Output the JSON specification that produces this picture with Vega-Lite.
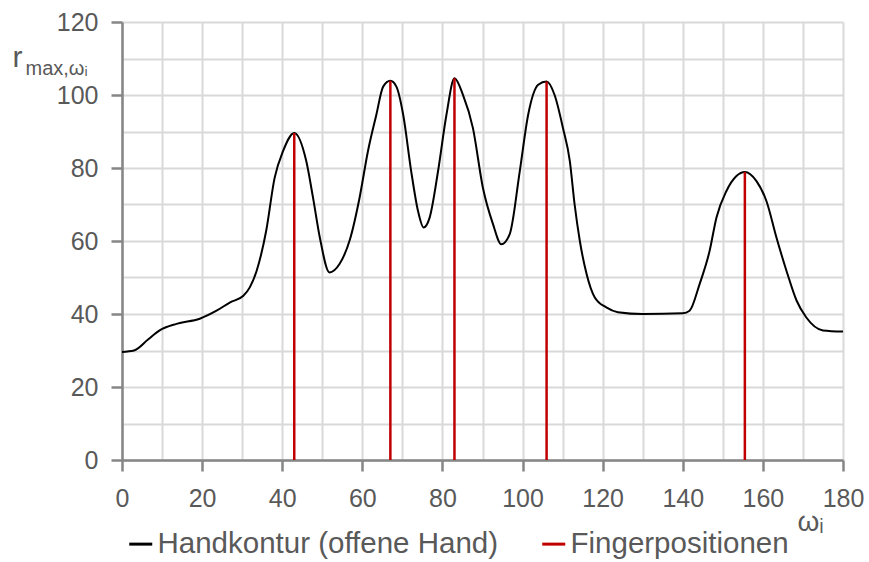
{
  "$schema": "https://vega.github.io/schema/vega-lite/v6.json",
  "width": 721,
  "height": 438,
  "autosize": "none",
  "padding": {"left": 122, "top": 22, "right": 26, "bottom": 102},
  "background": "white",
  "config": {
    "view": {"stroke": null},
    "font": "Liberation Sans",
    "axis": {"labelFont": "Liberation Sans", "titleFont": "Liberation Sans", "labelColor": "#595959", "titleColor": "#595959", "labelFlush": false}
  },
  "datasets": {
    "curve": [
      {"w": 0, "r": 29.6}, {"w": 3, "r": 30}, {"w": 6.5, "r": 33}, {"w": 9.4, "r": 35.5},
      {"w": 13.6, "r": 37.3}, {"w": 19.4, "r": 38.7}, {"w": 23.6, "r": 40.9}, {"w": 27, "r": 43.2},
      {"w": 30.3, "r": 45}, {"w": 31.9, "r": 47.3}, {"w": 33.6, "r": 51.8}, {"w": 36, "r": 62.8},
      {"w": 38.1, "r": 77.3}, {"w": 40.2, "r": 84.6}, {"w": 43, "r": 89.6}, {"w": 46, "r": 81.9},
      {"w": 47.7, "r": 71.8}, {"w": 49.4, "r": 60.9}, {"w": 51.8, "r": 51.4}, {"w": 54.3, "r": 53.7},
      {"w": 56.9, "r": 60.4}, {"w": 59.3, "r": 71.8}, {"w": 61.4, "r": 84.6}, {"w": 63.5, "r": 94.6},
      {"w": 65.2, "r": 102.3}, {"w": 67, "r": 103.9}, {"w": 68.5, "r": 102.3}, {"w": 70.2, "r": 94.6},
      {"w": 72.2, "r": 79.1}, {"w": 73.9, "r": 68.2}, {"w": 75.3, "r": 63.7}, {"w": 76.8, "r": 66.4},
      {"w": 78.9, "r": 79.1}, {"w": 81, "r": 94.6}, {"w": 83, "r": 104.6}, {"w": 85.1, "r": 100.1},
      {"w": 87.6, "r": 91}, {"w": 90.1, "r": 74.6}, {"w": 92.6, "r": 64.7}, {"w": 94.7, "r": 59.1},
      {"w": 96.8, "r": 61.9}, {"w": 99.3, "r": 79.1}, {"w": 101.4, "r": 94.6}, {"w": 103.9, "r": 102.8},
      {"w": 106, "r": 103.7}, {"w": 108, "r": 100}, {"w": 110.1, "r": 90.9}, {"w": 111.8, "r": 81.9},
      {"w": 113, "r": 70}, {"w": 114.3, "r": 60}, {"w": 116, "r": 50.9}, {"w": 118, "r": 44.6},
      {"w": 120.9, "r": 41.8}, {"w": 123.8, "r": 40.5}, {"w": 130, "r": 40}, {"w": 140, "r": 40.2},
      {"w": 141.7, "r": 40.9}, {"w": 144.2, "r": 48.2}, {"w": 146.7, "r": 57.3}, {"w": 148.4, "r": 66.4},
      {"w": 150.9, "r": 73.7}, {"w": 153.4, "r": 77.8}, {"w": 155.5, "r": 78.9}, {"w": 158.4, "r": 76.4},
      {"w": 160.9, "r": 70.9}, {"w": 163.4, "r": 60.9}, {"w": 165.9, "r": 51.8}, {"w": 168.4, "r": 43.7},
      {"w": 170.8, "r": 39.1}, {"w": 175, "r": 35.5}, {"w": 180, "r": 35.2}
    ],
    "fingers": [
      {"w": 43, "r": 89.6}, {"w": 67, "r": 103.9}, {"w": 83, "r": 104.6}, {"w": 106, "r": 103.7}, {"w": 155.5, "r": 78.9}
    ]
  },
  "layer": [
    {
      "data": {"name": "curve"},
      "mark": {"type": "line", "interpolate": "monotone", "strokeWidth": 2},
      "encoding": {
        "x": {"field": "w", "type": "quantitative", "scale": {"domain": [0, 180], "nice": false, "zero": false},
          "axis": {"orient": "bottom", "values": [0,10,20,30,40,50,60,70,80,90,100,110,120,130,140,150,160,170,180],
            "grid": true, "gridColor": "#d9d9d9", "gridWidth": 2, "ticks": false, "labels": false, "domain": false,
            "title": "ωᵢ", "titleFontSize": 28, "titleFontWeight": "normal", "titleAnchor": "start", "titleAlign": "left",
            "titleX": 675, "titleY": 70, "titleBaseline": "alphabetic"}},
        "y": {"field": "r", "type": "quantitative", "scale": {"domain": [0, 120], "nice": false},
          "axis": {"orient": "left", "values": [0,10,20,30,40,50,60,70,80,90,100,110,120],
            "grid": true, "gridColor": "#d9d9d9", "gridWidth": 2, "ticks": false, "labels": false, "domain": false,
            "title": "max,ωᵢ", "titleAngle": 0, "titleFontSize": 20, "titleFontWeight": "normal", "titleAlign": "left",
            "titleX": -97, "titleY": 52, "titleBaseline": "alphabetic"}},
        "color": {"datum": "Handkontur (offene Hand)", "type": "nominal",
          "scale": {"domain": ["Handkontur (offene Hand)", "Fingerpositionen"], "range": ["#000000", "#c00000"]},
          "legend": {"orient": "none", "legendX": 4, "legendY": 507, "direction": "horizontal", "title": null,
            "symbolType": "stroke", "symbolSize": 529, "symbolStrokeWidth": 3, "labelFontSize": 29.5,
            "labelColor": "#595959", "labelFont": "Liberation Sans", "labelOffset": 2, "columnPadding": 37,
            "labelLimit": 500}}
      }
    },
    {
      "data": {"name": "fingers"},
      "mark": {"type": "rule", "strokeWidth": 2.5},
      "encoding": {
        "x": {"field": "w", "type": "quantitative",
          "axis": {"orient": "bottom", "values": [0,20,40,60,80,100,120,140,160,180], "grid": false,
            "domainColor": "#868686", "domainWidth": 2.5, "tickColor": "#868686", "tickWidth": 2.5, "tickSize": 11,
            "labelFontSize": 25, "labelPadding": 15, "title": null}},
        "y": {"field": "r", "type": "quantitative",
          "axis": {"orient": "left", "values": [0,20,40,60,80,100,120], "grid": false,
            "domainColor": "#868686", "domainWidth": 2.5, "tickColor": "#868686", "tickWidth": 2.5, "tickSize": 11,
            "labelFontSize": 25, "labelPadding": 13,
            "title": "r", "titleAngle": 0, "titleFontSize": 30, "titleFontWeight": "normal", "titleAlign": "left",
            "titleX": -110, "titleY": 44, "titleBaseline": "alphabetic"}},
        "y2": {"datum": 0},
        "color": {"datum": "Fingerpositionen", "type": "nominal"}
      }
    }
  ],
  "resolve": {"axis": {"x": "independent", "y": "independent"}}
}
